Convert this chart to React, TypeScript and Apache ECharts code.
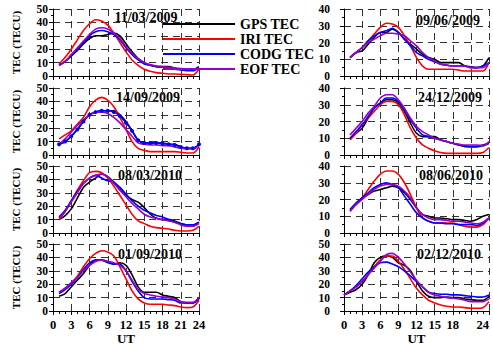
import React, { useEffect, useRef } from 'react';
import * as echarts from 'echarts';

const SERIES_NAMES = ['GPS TEC', 'IRI TEC', 'CODG TEC', 'EOF TEC'];
const SERIES_COLORS = ['#000000', '#ff0000', '#0000ff', '#9900cc'];
const FONT = '"Liberation Serif", "DejaVu Serif", serif';

const hours1 = [1, 2, 3, 4, 5, 6, 7, 8, 9, 10, 11, 12, 13, 14, 15, 16, 17, 18, 19, 20, 21, 22, 23, 24];
const hours0 = [0, 1, 2, 3, 4, 5, 6, 7, 8, 9, 10, 11, 12, 13, 14, 15, 16, 17, 18, 19, 20, 21, 22, 23, 24];

const dates = ['11/03/2009', '09/06/2009', '14/09/2009', '24/12/2009', '08/03/2010', '08/06/2010', '01/09/2010', '02/12/2010'];
const yMaxes = [50, 40, 50, 40, 50, 40, 50, 50];

// 11/03/2009
const l1Gps = [8, 11, 15, 19, 24, 28, 30, 30, 31, 32, 30, 24, 18, 13, 10, 8, 7, 7, 7, 6, 5, 5, 5, 7];
const l1Iri = [9, 14, 20, 27, 34, 39, 42, 41, 38, 32, 25, 18, 12, 8, 5, 3.5, 2.5, 2, 1.5, 1.5, 1.2, 1, 0.7, 5];
const l1Codg = [8, 11, 15, 20, 25, 30, 33, 34, 33, 31, 27, 21, 16, 12, 9, 8, 7, 6.5, 6, 5, 4.5, 4, 4, 6];
const l1Eof = [8, 11, 16, 21, 26, 31, 35, 36, 35, 32, 28, 22, 17, 13, 10, 8.5, 7.5, 7, 6.5, 6, 5.5, 5, 5, 6];

// 09/06/2009
const r1Gps = [11, 14, 15, 19, 23, 26, 26, 28, 26, 22, 19, 16, 13, 11, 10, 8, 8, 8, 8, 6, 5.5, 5, 6, 11];
const r1Iri = [11, 14, 17, 21, 25, 29, 31.5, 31, 29, 24, 18, 11, 6, 4, 4, 4, 4, 4, 3.5, 3, 3, 3, 3, 8];
const r1Codg = [11, 14, 17, 21, 24, 26, 27, 28.5, 26, 22, 18, 14, 12, 10, 8.5, 7, 6.5, 6, 6, 6, 5, 5, 6, 8];
const r1Eof = [11, 14, 17, 20, 22, 24, 25.5, 25.5, 25, 24, 21, 18, 14, 11, 9, 7, 6.5, 6, 6, 6, 5, 5, 5, 8];

// 14/09/2009
const l2Gps = [8, 10, 14, 19, 25, 30, 32, 33, 33, 33, 30, 25, 18, 11, 9, 9, 9, 9, 8, 8, 6, 5, 5, 8];
const l2Iri = [12, 15, 18, 23, 28, 36, 41, 43, 41, 36, 28, 19, 10, 5, 3.5, 2.5, 2.5, 2.5, 2.5, 2.5, 2, 1.5, 1.5, 6];
const l2Codg = [8, 10, 14, 19, 25, 30, 32, 33, 33, 32, 29, 24, 18, 11, 9, 9, 9, 8.5, 8, 7.5, 6, 5, 5, 8];
const l2Eof = [8, 12, 17, 22, 26, 30, 32, 32, 31, 28, 24, 19, 14, 9, 8, 7.5, 7.5, 7, 7, 6, 5, 4.5, 4.5, 7];

// 24/12/2009
const r2Gps = [10, 13, 16, 22, 28, 31, 33, 33, 31, 26, 19, 13, 11, 11, 11, 9, 8, 7, 6, 5, 5, 5, 6, 7];
const r2Iri = [9, 13, 18, 22, 26, 30, 32, 32, 30, 24, 16, 10, 6, 4, 2.5, 1.5, 1, 1, 1, 1, 1, 1, 1.5, 4.5];
const r2Codg = [10, 14, 18, 23, 28, 31, 34, 34, 32, 27, 21, 16, 12, 11, 10, 9, 8, 7, 6, 5.5, 5, 5, 5.5, 7];
const r2Eof = [12, 16, 20, 25, 29, 34, 36, 36, 33, 28, 22, 17, 14, 12, 10, 9, 8, 7, 6.5, 6, 6, 6, 5.5, 8];

// 08/03/2010
const l3Gps = [10, 13, 18, 26, 34, 38, 41, 44, 42, 38, 33, 28, 25, 23, 19, 14, 11, 10, 10, 9, 7, 6, 6, 8];
const l3Iri = [10, 16, 24, 32, 39, 45, 46, 45, 41, 35, 28, 21, 14, 9, 7, 5, 4, 3.5, 3, 2, 1.5, 1.5, 2, 5];
const l3Codg = [12, 17, 24, 31, 37, 41, 43, 41, 39, 38, 34, 29, 24, 20, 17, 15, 13, 12, 10, 8, 7, 6, 6, 8];
const l3Eof = [11, 16, 23, 30, 37, 41, 43, 44, 42, 37, 32, 27, 22, 18, 14, 12, 11, 10, 9, 8, 6, 5, 5, 7];

// 08/06/2010
const r3Gps = [14, 17, 21, 23, 25, 26, 27, 28, 27, 24, 20, 15, 11, 10, 9, 9, 8.5, 8, 8, 7.5, 7, 8, 10, 11];
const r3Iri = [13, 17, 21, 26, 31, 35, 37, 37, 35, 30, 23, 15, 9, 7, 6, 6, 6, 6, 5, 4, 3.5, 3.5, 5, 9];
const r3Codg = [14, 18, 21, 24, 27, 29, 30, 29, 27, 22, 17, 12, 9, 7, 6, 6, 5.5, 5.5, 5, 5, 5, 4.5, 6, 9];
const r3Eof = [13, 17, 20, 23, 26, 28, 29, 29, 28, 25, 21, 15, 11, 9, 8, 8, 7.5, 7, 7, 6.5, 6, 5.5, 6.5, 9];

// 01/09/2010
const l4Gps = [11, 13, 18, 23, 28, 34, 38, 38, 37, 35, 36, 34, 27, 18, 14, 14, 14, 12, 11, 10, 7, 6, 6, 10];
const l4Iri = [14, 17, 21, 26, 33, 39, 43, 45, 44, 41, 33, 24, 15, 9, 6, 5, 5, 5, 4.5, 4, 3, 2.5, 3, 8];
const l4Codg = [13, 16, 20, 25, 31, 36, 38, 38, 36, 35, 35, 30, 22, 15, 10, 9, 9, 9, 8.5, 8, 6, 6, 6, 9];
const l4Eof = [14, 17, 21, 25, 30, 34, 37, 38, 37, 36, 34, 30, 23, 16, 13, 12, 11, 10.5, 10, 9, 7, 6.5, 6.5, 10];

// 02/12/2010 (from 0 UT)
const r4Gps = [12, 14, 16, 20, 27, 36, 40, 41, 40, 36, 34, 30, 22, 15, 11, 10, 10, 10.5, 10, 10, 9, 8.5, 8, 8, 11];
const r4Iri = [12, 15, 18, 22, 27, 33, 38, 41, 41, 37, 31, 24, 17, 12, 8, 6, 4.5, 3.5, 3, 3, 2.5, 2, 2, 2.5, 7];
const r4Codg = [12, 15, 19, 24, 29, 33, 36, 36.5, 35, 33, 30, 26, 22, 18, 14, 13, 12.5, 12.5, 12, 12, 11.5, 11, 10.5, 10.5, 12];
const r4Eof = [12, 15, 18, 22, 27, 32, 37, 42, 43, 40, 35, 29, 23, 18, 14, 12, 11, 10, 9.5, 9, 8, 7, 7, 7, 9];

const panelValues = [
  [l1Gps, l1Iri, l1Codg, l1Eof],
  [r1Gps, r1Iri, r1Codg, r1Eof],
  [l2Gps, l2Iri, l2Codg, l2Eof],
  [r2Gps, r2Iri, r2Codg, r2Eof],
  [l3Gps, l3Iri, l3Codg, l3Eof],
  [r3Gps, r3Iri, r3Codg, r3Eof],
  [l4Gps, l4Iri, l4Codg, l4Eof],
  [r4Gps, r4Iri, r4Codg, r4Eof],
];
const panelHours = [hours1, hours1, hours1, hours1, hours1, hours1, hours1, hours0];

const TOPS = [9, 88, 166, 244];
const DATE_POS = [
  [146, 17], [448, 20], [148, 97], [450, 97], [150, 175], [451, 175], [150, 254], [449, 254],
];

function buildOption() {
  const grid: any[] = [];
  const xAxis: any[] = [];
  const yAxis: any[] = [];
  const series: any[] = [];
  const graphic: any[] = [];
  const dashed = { color: '#333', type: [7, 5], width: 1 };
  for (let i = 0; i < 8; i++) {
    const col = i % 2;
    const row = Math.floor(i / 2);
    grid.push({
      left: col === 0 ? 53 : 344, top: TOPS[row], width: col === 0 ? 146 : 145, height: 67,
      containLabel: false, outerBoundsMode: 'none',
    });
    xAxis.push({
      type: 'value', gridIndex: i, min: 0, max: 24, interval: 3,
      axisLine: { show: true, onZero: false, lineStyle: { color: '#000', width: 1 } },
      axisTick: { show: true, length: 4, lineStyle: { color: '#000' } },
      minorTick: { show: true, splitNumber: 3, length: 3, lineStyle: { color: '#000' } },
      splitLine: { show: true, lineStyle: dashed },
      axisLabel: {
        show: row === 3, fontFamily: FONT, fontWeight: 'bold', fontSize: 12.5, lineHeight: 12, color: '#000', margin: 8,
        showMinLabel: true, showMaxLabel: true,
        alignMaxLabel: col === 1 ? 'right' : undefined,
      },
      name: row === 3 ? 'UT' : '', nameLocation: 'middle', nameGap: 16,
      nameTextStyle: { fontFamily: FONT, fontWeight: 'bold', fontSize: 13, lineHeight: 13, color: '#000' },
    });
    yAxis.push({
      type: 'value', gridIndex: i, min: 0, max: yMaxes[i], interval: 10,
      axisLine: { show: true, onZero: false, lineStyle: { color: '#000', width: 1 } },
      axisTick: { show: true, length: 4, lineStyle: { color: '#000' } },
      minorTick: { show: true, splitNumber: 2, length: 2, lineStyle: { color: '#000' } },
      splitLine: { show: true, lineStyle: dashed },
      axisLabel: {
        fontFamily: FONT, fontWeight: 'bold', fontSize: 11.5, lineHeight: 10, color: '#000',
        margin: col === 0 ? 5 : 14, showMinLabel: true, showMaxLabel: true, hideOverlap: false,
      },
      name: col === 0 ? 'TEC (TECU)' : '', nameLocation: 'middle', nameRotate: 90, nameGap: 32,
      nameTextStyle: { fontFamily: FONT, fontWeight: 'bold', fontSize: 11, color: '#000' },
    });
    const hrs = panelHours[i];
    panelValues[i].forEach((vals, k) => {
      const withDots = i === 2 && k === 2;
      series.push({
        type: 'line', name: SERIES_NAMES[k], xAxisIndex: i, yAxisIndex: i,
        data: hrs.map((h, j) => [h, vals[j]]),
        showSymbol: withDots, symbol: withDots ? 'circle' : 'none', symbolSize: 4,
        smooth: 0.3,
        color: SERIES_COLORS[k],
        lineStyle: { width: 1.6, color: SERIES_COLORS[k] },
        itemStyle: { color: SERIES_COLORS[k] },
      });
    });
    graphic.push({
      type: 'text', x: DATE_POS[i][0], y: DATE_POS[i][1], silent: true,
      style: {
        text: dates[i], fill: '#000', font: `bold 14px ${FONT}`,
        align: 'center', verticalAlign: 'middle',
      },
    });
  }
  return {
    animation: false,
    backgroundColor: '#fff',
    grid, xAxis, yAxis, series, graphic,
    legend: {
      data: SERIES_NAMES, orient: 'vertical', left: 163, top: 16.5,
      itemWidth: 72, itemHeight: 2, itemGap: 0, icon: 'rect', padding: 0,
      textStyle: { fontFamily: FONT, fontWeight: 'bold', fontSize: 14, color: '#000', lineHeight: 15 },
    },
  };
}

export default function App() {
  const ref = useRef<HTMLDivElement>(null);
  useEffect(() => {
    if (!ref.current) return;
    const chart = echarts.init(ref.current, undefined, { renderer: 'svg' });
    chart.setOption(buildOption() as any);
    return () => chart.dispose();
  }, []);
  return <div ref={ref} style={{ position: 'fixed', left: 0, top: 0, width: 493, height: 345 }} />;
}
